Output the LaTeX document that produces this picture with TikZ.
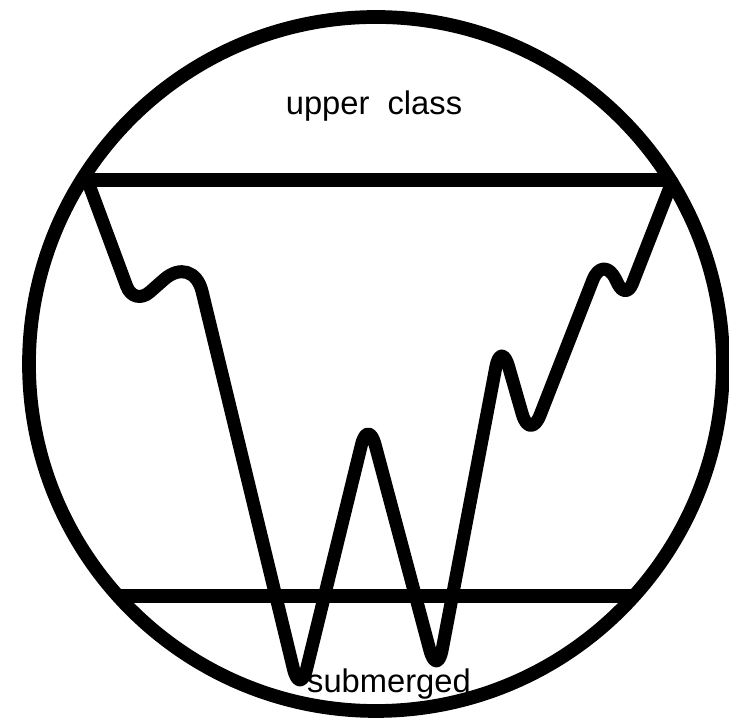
\documentclass[tikz,border=0pt]{standalone}
\usepackage{fontspec}
\setmainfont{Liberation Sans}

\begin{document}
\begin{tikzpicture}[
    x=0.01cm, y=-0.01cm,
    rim/.style={line width=3.9pt},
    level/.style={line width=3.9pt},
    wave/.style={line width=3.7pt, line join=round, line cap=round},
    lbl/.style={font=\fontsize{9.3pt}{11pt}\selectfont, inner sep=0pt, anchor=base}
]
\useasboundingbox (0,0) rectangle (729,722);

% --- Circle and the two class levels ---
\coordinate (ctr) at (376,364);
\draw[rim] (ctr) circle[radius=347];

\coordinate (topL) at (84,180);
\coordinate (topR) at (670,180);
\coordinate (botL) at (118,596);
\coordinate (botR) at (636,596);
\draw[level] (topL) -- (topR);
\draw[level] (botL) -- (botR);

% --- Labels ---
\node[lbl] (upper) at (374,115) {upper\ \ class};
\node[lbl] (submerged) at (389,693) {submerged};

% --- The wave between the levels ---
\draw[wave] (88,182) [rounded corners=6pt] -- (134,306)
    [rounded corners=11pt] -- (193,254)
    [rounded corners=8pt] -- (300,696) -- (368,418) -- (437,677)
    -- (501,340) -- (530,441) -- (603,254)
    [rounded corners=5pt] -- (626,300) -- (672,182);

\end{tikzpicture}
\end{document}
